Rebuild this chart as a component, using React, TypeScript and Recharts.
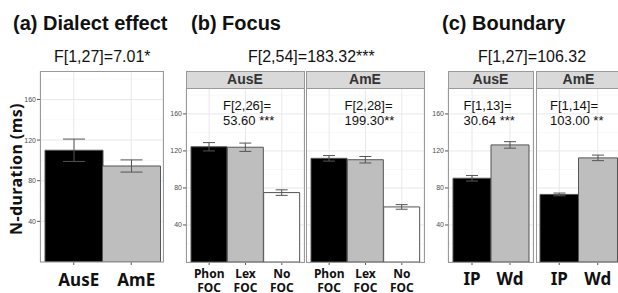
import React from 'react';
import { BarChart, Bar, XAxis, YAxis, CartesianGrid, ErrorBar, Cell } from 'recharts';

// ---------- data ----------
const dialectCats = ['AusE', 'AmE'];
const dialectMeans = [110, 94.5];
const dialectErr = [11, 6];

const focusCats = ['Phon FOC', 'Lex FOC', 'No FOC'];
const focusAusE = [124.5, 124, 75];
const focusAusEErr = [4.5, 4.5, 3];
const focusAmE = [112, 110.5, 59.5];
const focusAmEErr = [3, 3.5, 2.5];

const boundaryCats = ['IP', 'Wd'];
const boundaryAusE = [90.5, 126.5];
const boundaryAusEErr = [3, 3.5];
const boundaryAmE = [73, 112.5];
const boundaryAmEErr = [1.5, 3];

const yTicks = [40, 80, 120, 160];
const yMinor = [20, 60, 100, 140, 180];
const yMax = 188;

const titles = ['(a) Dialect effect', '(b) Focus', '(c) Boundary'];
const subtitles = ['F[1,27]=7.01*', 'F[2,54]=183.32***', 'F[1,27]=106.32'];
const stripLabels = ['AusE', 'AmE'];
const focusNotes = [['F[2,26]=', '53.60 ***'], ['F[2,28]=', '199.30**']];
const boundaryNotes = [['F[1,13]=', '30.64 ***'], ['F[1,14]=', '103.00 **']];
const yTitle = 'N-duration (ms)';

const twoColors = ['#000000', '#bebebe'];
const threeColors = ['#000000', '#bebebe', '#ffffff'];

const build = (cats: string[], vals: number[], errs: number[]) =>
  cats.map((c, i) => ({ cat: c, v: vals[i], err: errs[i] }));

// ---------- layout ----------
const SANS = '"Liberation Sans", Arial, sans-serif';
const LABEL_FONT = '"Noto Sans", "Open Sans", sans-serif';
const PLOT_BOTTOM = 262;

type PanelProps = {
  data: { cat: string; v: number; err: number }[];
  colors: string[];
  left: number;
  right: number;
  top: number;
  axisW: number;
  padL: number;
  padR: number;
  capW: number;
  labelSize: number;
  labelDy: number;
  labelGap: number;
  labelDx: number;
};

function Panel(p: PanelProps) {
  const plotW = p.right - p.left;
  const plotH = PLOT_BOTTOM - p.top;
  const xAxisH = 293 - PLOT_BOTTOM;
  const Tick = (props: any) => {
    const { x, payload } = props;
    const lines = String(payload.value).split(' ');
    return (
      <g>
        {lines.map((l, i) => (
          <text
            key={i}
            x={x + p.labelDx}
            y={plotH + p.labelDy + i * p.labelGap}
            textAnchor="middle"
            fontFamily={LABEL_FONT}
            fontWeight={700}
            fontSize={p.labelSize}
            fill="#111"
          >
            {l}
          </text>
        ))}
      </g>
    );
  };
  return (
    <div style={{ position: 'absolute', left: p.left - p.axisW, top: p.top }}>
      <BarChart
        width={plotW + p.axisW}
        height={plotH + xAxisH}
        data={p.data}
        margin={{ top: 0, right: 0, bottom: 0, left: 0 }}
        barCategoryGap={0}
        barGap={0}
        style={{ overflow: 'visible' }}
      >
        <CartesianGrid
          stroke="#f3f3f3"
          strokeWidth={0.6}
          vertical={false}
          horizontalValues={yMinor}
        />
        <CartesianGrid stroke="#e8e8e8" strokeWidth={1} />
        <XAxis
          dataKey="cat"
          height={xAxisH}
          padding={{ left: p.padL, right: p.padR }}
          axisLine={false}
          tickSize={3}
          tickLine={{ stroke: '#555' }}
          tick={<Tick />}
          interval={0}
        />
        <YAxis
          domain={[0, yMax]}
          ticks={yTicks}
          interval={0}
          width={p.axisW}
          hide={p.axisW === 0}
          axisLine={false}
          tickSize={3}
          tickMargin={1}
          tickLine={{ stroke: '#555' }}
          tick={{ fontSize: 7, fill: '#4d4d4d', fontFamily: SANS }}
          allowDataOverflow
        />
        <Bar dataKey="v" isAnimationActive={false} stroke="#555" strokeWidth={1}>
          {p.data.map((d, i) => (
            <Cell key={d.cat} fill={p.colors[i]} />
          ))}
          <ErrorBar dataKey="err" width={p.capW} stroke="#555" strokeWidth={1} direction="y" />
        </Bar>
      </BarChart>
    </div>
  );
}

export default function App() {
  const panelBorder = '#999';
  const facetTop = 88;
  const stripTop = 71;
  const facets = [
    { l: 186, r: 304 },
    { l: 306, r: 424 },
    { l: 448, r: 533 },
    { l: 536, r: 621 },
  ];
  return (
    <div
      style={{
        position: 'absolute',
        left: 0,
        top: 0,
        width: 618,
        height: 293,
        overflow: 'hidden',
        background: '#fff',
        fontFamily: SANS,
      }}
    >
      <Panel
        data={build(dialectCats, dialectMeans, dialectErr)}
        colors={twoColors}
        left={40}
        right={163}
        top={71}
        axisW={20}
        padL={5}
        padR={3}
        capW={11}
        labelSize={17}
        labelDy={24}
        labelGap={0}
        labelDx={5}
      />
      <Panel
        data={build(focusCats, focusAusE, focusAusEErr)}
        colors={threeColors}
        left={186}
        right={304}
        top={facetTop}
        axisW={16}
        padL={5}
        padR={4}
        capW={6}
        labelSize={12}
        labelDy={15.5}
        labelGap={14}
        labelDx={0}
      />
      <Panel
        data={build(focusCats, focusAmE, focusAmEErr)}
        colors={threeColors}
        left={306}
        right={424}
        top={facetTop}
        axisW={0}
        padL={5}
        padR={4}
        capW={6}
        labelSize={12}
        labelDy={15.5}
        labelGap={14}
        labelDx={0}
      />
      <Panel
        data={build(boundaryCats, boundaryAusE, boundaryAusEErr)}
        colors={twoColors}
        left={448}
        right={533}
        top={facetTop}
        axisW={18}
        padL={5}
        padR={4}
        capW={6}
        labelSize={17}
        labelDy={23}
        labelGap={0}
        labelDx={0}
      />
      <Panel
        data={build(boundaryCats, boundaryAmE, boundaryAmEErr)}
        colors={twoColors}
        left={536}
        right={621}
        top={facetTop}
        axisW={0}
        padL={4}
        padR={4}
        capW={6}
        labelSize={17}
        labelDy={23}
        labelGap={0}
        labelDx={0}
      />
      <svg
        width={618}
        height={293}
        style={{ position: 'absolute', left: 0, top: 0, pointerEvents: 'none' }}
      >
        {/* panel (a) border */}
        <rect x={40.5} y={71.5} width={123} height={190.5} fill="none" stroke={panelBorder} />
        {facets.map((f, i) => (
          <g key={i}>
            <rect x={f.l + 0.5} y={stripTop + 0.5} width={f.r - f.l} height={facetTop - stripTop} fill="#d9d9d9" stroke={panelBorder} />
            <text x={(f.l + f.r) / 2} y={84} textAnchor="middle" fontFamily={SANS} fontWeight={700} fontSize={14} fill="#333">
              {stripLabels[i % 2]}
            </text>
            <rect x={f.l + 0.5} y={facetTop + 0.5} width={f.r - f.l} height={PLOT_BOTTOM - facetTop} fill="none" stroke={panelBorder} />
          </g>
        ))}
        {/* titles */}
        <text x={13} y={30} fontFamily={SANS} fontWeight={700} fontSize={20} fill="#111">{titles[0]}</text>
        <text x={191} y={30} fontFamily={SANS} fontWeight={700} fontSize={20} fill="#111">{titles[1]}</text>
        <text x={442} y={30} fontFamily={SANS} fontWeight={700} fontSize={20} fill="#111">{titles[2]}</text>
        {/* subtitles */}
        <text x={54} y={62} fontFamily={SANS} fontSize={16} fill="#111">{subtitles[0]}</text>
        <text x={248} y={62} fontFamily={SANS} fontSize={16} fill="#111">{subtitles[1]}</text>
        <text x={478} y={62} fontFamily={SANS} fontSize={16} fill="#111">{subtitles[2]}</text>
        {/* in-panel notes */}
        {[
          { x: 223, n: focusNotes[0] },
          { x: 344.5, n: focusNotes[1] },
          { x: 463.5, n: boundaryNotes[0] },
          { x: 550, n: boundaryNotes[1] },
        ].map((o, i) => (
          <g key={i}>
            <text x={o.x} y={110} fontFamily={SANS} fontSize={13} fill="#111">{o.n[0]}</text>
            <text x={o.x} y={125} fontFamily={SANS} fontSize={13} fill="#111">{o.n[1]}</text>
          </g>
        ))}
        {/* y title */}
        <text
          x={0}
          y={0}
          transform="translate(22,169) rotate(-90)"
          textAnchor="middle"
          fontFamily={LABEL_FONT}
          fontWeight={700}
          fontSize={16}
          letterSpacing={0.4}
          fill="#111"
        >
          {yTitle}
        </text>
      </svg>
    </div>
  );
}
